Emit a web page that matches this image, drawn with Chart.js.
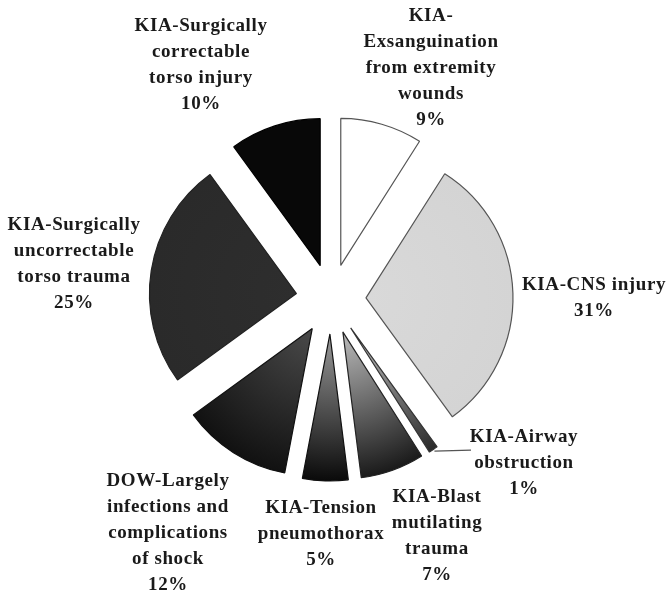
<!DOCTYPE html>
<html>
<head>
<meta charset="utf-8">
<script src="https://cdn.jsdelivr.net/npm/chart.js@4/dist/chart.umd.min.js"></script>
<style>
  html, body { margin: 0; padding: 0; background: #fff; }
  #wrap { width: 667px; height: 596px; }
</style>
</head>
<body>
<div id="wrap"><canvas id="chart"></canvas></div>
<script>
// categories clockwise from 12 o'clock, '\n' = line break in the label
const categories = [
  'KIA-\nExsanguination\nfrom extremity\nwounds',
  'KIA-CNS injury',
  'KIA-Airway\nobstruction',
  'KIA-Blast\nmutilating\ntrauma',
  'KIA-Tension\npneumothorax',
  'DOW-Largely\ninfections and\ncomplications\nof shock',
  'KIA-Surgically\nuncorrectable\ntorso trauma',
  'KIA-Surgically\ncorrectable\ntorso injury'
];
const percents = [9, 31, 1, 7, 5, 12, 25, 10];

// look of each slice: [inner colour, outer colour] of a radial fill
const fills = [
  ['#ffffff', '#ffffff'],
  ['#d9d9d9', '#d4d4d4'],
  ['#c8c8c8', '#2a2a2a'],
  ['#bcbcbc', '#1a1a1a'],
  ['#9a9a9a', '#0a0a0a'],
  ['#4a4a4a', '#111111'],
  ['#2e2e2e', '#2a2a2a'],
  ['#080808', '#080808']
];
const borders = ['#555', '#555', '#333', '#222', '#111', '#111', '#222', '#000'];

// label centres (x, y of first line)
const labelPos = [
  [431, 16], [594, 285], [524, 437], [437, 497],
  [321, 508], [168, 481], [74, 225], [201, 26]
];
const LINE_H = 26;
const RADIUS = 147;
const GAP = 35;

function centre(chart) {
  const a = chart.chartArea;
  return { x: (a.left + a.right) / 2, y: (a.top + a.bottom) / 2 };
}

const explodePlugin = {
  id: 'explode',
  beforeDatasetDraw(chart, args) {
    const ctx = chart.ctx;
    args.meta.data.forEach(arc => {
      const mid = (arc.startAngle + arc.endAngle) / 2;
      ctx.save();
      ctx.translate(Math.cos(mid) * GAP, Math.sin(mid) * GAP);
      arc.draw(ctx);
      ctx.restore();
    });
    return false;
  }
};

const labelPlugin = {
  id: 'labels',
  afterDraw(chart) {
    const ctx = chart.ctx;
    ctx.save();
    ctx.font = 'bold 19px "Liberation Serif", "Times New Roman", serif';
    ctx.letterSpacing = '0.6px';
    ctx.fillStyle = '#1a1a1a';
    ctx.textAlign = 'center';
    ctx.textBaseline = 'middle';
    categories.forEach((name, i) => {
      const lines = name.split('\n').concat(percents[i] + '%');
      const [x, y] = labelPos[i];
      lines.forEach((ln, j) => ctx.fillText(ln, x, y + j * LINE_H));
    });

    // leader line for the airway slice
    const arc = chart.getDatasetMeta(0).data[2];
    const mid = (arc.startAngle + arc.endAngle) / 2;
    const r = arc.outerRadius + GAP + 2;
    const sx = arc.x + Math.cos(mid) * r;
    const sy = arc.y + Math.sin(mid) * r;
    ctx.strokeStyle = '#555';
    ctx.lineWidth = 1.2;
    ctx.beginPath();
    ctx.moveTo(sx, sy);
    ctx.lineTo(471, sy - 1);
    ctx.stroke();
    ctx.restore();
  }
};

new Chart(document.getElementById('chart'), {
  type: 'pie',
  data: {
    labels: categories,
    datasets: [{
      data: percents,
      backgroundColor: c => {
        const chart = c.chart;
        if (!chart.chartArea) return fills[c.dataIndex][0];
        const { x, y } = centre(chart);
        const g = chart.ctx.createRadialGradient(x, y, 0, x, y, RADIUS);
        g.addColorStop(0, fills[c.dataIndex][0]);
        g.addColorStop(1, fills[c.dataIndex][1]);
        return g;
      },
      borderColor: borders,
      borderWidth: 1.2
    }]
  },
  options: {
    responsive: true,
    maintainAspectRatio: false,
    animation: false,
    radius: RADIUS,
    layout: { padding: { left: 0, right: 5, top: 2, bottom: 0 } },
    plugins: {
      legend: { display: false },
      tooltip: { enabled: false }
    }
  },
  plugins: [explodePlugin, labelPlugin]
});
</script>
</body>
</html>
